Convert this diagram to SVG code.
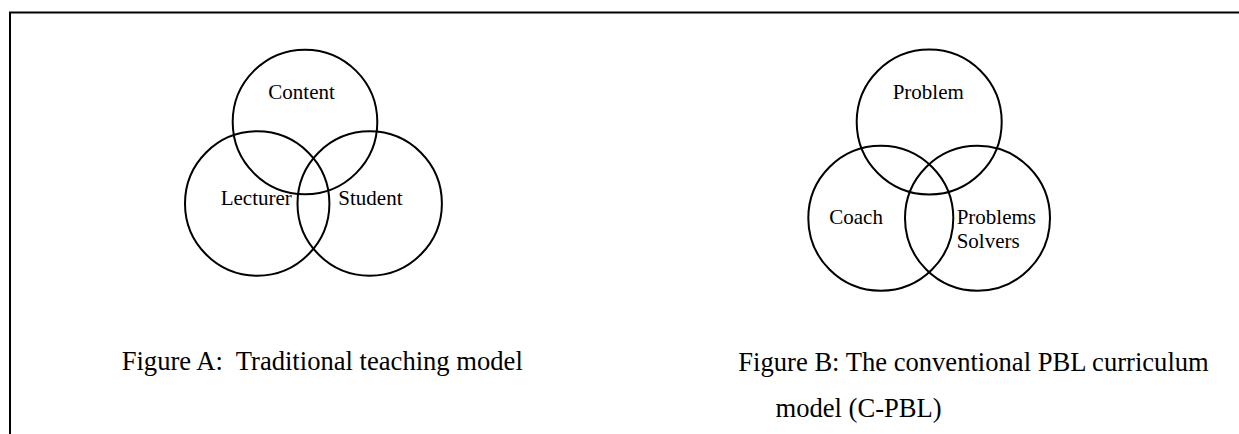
<svg xmlns="http://www.w3.org/2000/svg" width="1239" height="434" viewBox="0 0 1239 434">
  <style>
    .ring { fill: none; stroke: #000; stroke-width: 2; }
    .label { font-family: "Liberation Serif", "Times New Roman", serif; font-size: 21px; fill: #000; }
    .caption { font-family: "Liberation Serif", "Times New Roman", serif; font-size: 26.6px; fill: #000; }
    .frame { fill: none; stroke: #000; stroke-width: 2; }
  </style>
  <rect width="1239" height="434" fill="#fff"/>

  <!-- page frame: left and top rules -->
  <path class="frame" d="M10,434 V12.5 H1239"/>

  <!-- Figure A: traditional teaching model -->
  <g id="content">
    <circle class="ring" cx="305" cy="122" r="72.3"/>
    <text class="label" x="268.3" y="99.3">Content</text>
  </g>
  <g id="lecturer">
    <circle class="ring" cx="257.2" cy="203.5" r="72.2"/>
    <text class="label" x="220.7" y="205">Lecturer</text>
  </g>
  <g id="student">
    <circle class="ring" cx="369.7" cy="203.5" r="72.2"/>
    <text class="label" x="338.3" y="205">Student</text>
  </g>
  <text id="caption-a" class="caption" x="121.7" y="369.5" xml:space="preserve">Figure A:  Traditional teaching model</text>

  <!-- Figure B: conventional PBL curriculum model -->
  <g id="problem">
    <circle class="ring" cx="929.2" cy="122" r="72.5"/>
    <text class="label" x="892.7" y="99.3">Problem</text>
  </g>
  <g id="coach">
    <circle class="ring" cx="880.8" cy="218.3" r="72.5"/>
    <text class="label" x="829.3" y="224">Coach</text>
  </g>
  <g id="problem-solvers">
    <circle class="ring" cx="977.5" cy="218.3" r="72.5"/>
    <text class="label" x="956.7" y="223.5">Problems</text>
    <text class="label" x="956.7" y="248.3">Solvers</text>
  </g>
  <g id="caption-b">
    <text class="caption" x="738.3" y="370.5">Figure B: The conventional PBL curriculum</text>
    <text class="caption" x="775.5" y="416.5">model (C-PBL)</text>
  </g>

  <!-- no connectors in this figure -->
  <g id="connectors"/>
</svg>
